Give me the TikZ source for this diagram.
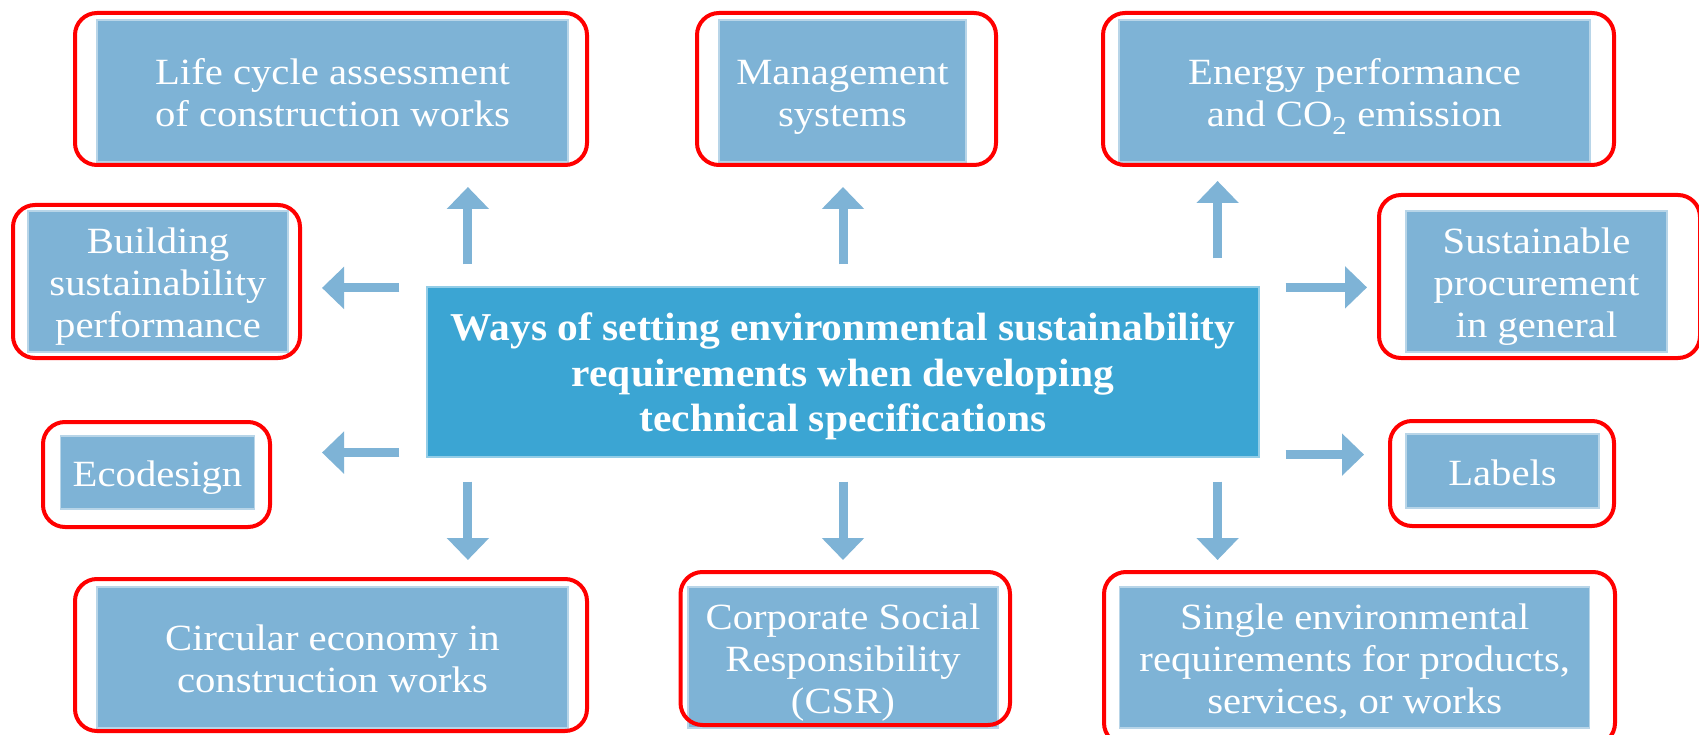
\documentclass[tikz,border=0pt]{standalone}
\usepackage{fontspec}
\setmainfont{Liberation Serif}[FakeStretch=1.1]
\newfontfamily\ctrfont{Liberation Serif}[FakeStretch=1.05]
\usetikzlibrary{arrows.meta,calc}
\definecolor{boxblue}{HTML}{7EB3D6}
\definecolor{ctrblue}{HTML}{3BA5D3}
\definecolor{framered}{HTML}{FF0000}
\tikzset{
  bluebox/.style={rectangle, fill=boxblue, draw=boxblue!55!white, line width=1.2pt,
    inner sep=0pt, text=white, align=center,
    font=\fontsize{37}{42}\selectfont},
  oneline/.style={text height=28.5pt, text depth=0pt},
  twolines/.style={text height=70.5pt, text depth=0pt},
  threelines/.style={text height=112.5pt, text depth=0pt},
  ctrbox/.style={rectangle, fill=ctrblue, draw=ctrblue!55!white, line width=1.2pt,
    inner sep=0pt, text=white, align=center,
    font=\ctrfont\bfseries\fontsize{39.5}{45.5}\selectfont,
    text height=119pt, text depth=0pt},
  redframe/.style={rectangle, draw=framered, line width=4pt, rounded corners=22pt,
    inner sep=0pt, fill=none},
  arr/.style={draw=boxblue, line width=9pt, -{Triangle[width=41pt,length=22pt]}},
}
\begin{document}
\begin{tikzpicture}[x=1pt,y=-1pt]
\useasboundingbox (0,0) rectangle (1699,735);
\clip (0,0) rectangle (1699,735);
\fill[white] (0,0) rectangle (1699,735);

% blue boxes
\node[bluebox, twolines, minimum width=471pt, minimum height=142pt] (lca) at (332.5,91) {Life cycle assessment\\of construction works};
\node[bluebox, twolines, minimum width=247pt, minimum height=142pt] (mgmt) at (842.5,91) {Management\\systems};
\node[bluebox, twolines, minimum width=471pt, minimum height=142pt] (energy) at (1354.5,91) {Energy performance\\and CO\textsubscript{2} emission};
\node[bluebox, threelines, minimum width=260pt, minimum height=141pt] (build) at (158,281.5) {Building\\sustainability\\performance};
\node[bluebox, threelines, minimum width=261pt, minimum height=141pt] (sust) at (1536.5,281.5) {Sustainable\\procurement\\in general};
\node[bluebox, oneline, minimum width=194pt, minimum height=73pt] (eco) at (157.5,472.5) {Ecodesign};
\node[bluebox, oneline, minimum width=193pt, minimum height=74pt] (labels) at (1502.5,471) {Labels};
\node[bluebox, twolines, minimum width=471pt, minimum height=141pt] (circ) at (332.5,657.5) {Circular economy in\\construction works};
\node[bluebox, threelines, minimum width=310pt, minimum height=141pt] (csr) at (843,657.5) {Corporate Social\\Responsibility\\(CSR)};
\node[bluebox, threelines, minimum width=470pt, minimum height=141pt] (single) at (1354.75,657.5) {Single environmental\\requirements for products,\\services, or works};

% central box
\node[ctrbox, minimum width=832pt, minimum height=170pt] (ctr) at (843,372) {Ways of setting environmental sustainability\\requirements when developing\\technical specifications};

% red frames
\node[redframe, minimum width=512pt, minimum height=152pt] (lcar) at (331,89) {};
\node[redframe, minimum width=299pt, minimum height=152pt] (mgmtr) at (846.5,89) {};
\node[redframe, minimum width=511pt, minimum height=152pt] (energyr) at (1358.5,89) {};
\node[redframe, minimum width=287pt, minimum height=153pt] (buildr) at (156.5,281.5) {};
\node[redframe, minimum width=321pt, minimum height=163pt] (sustr) at (1539.5,276.5) {};
\node[redframe, minimum width=227pt, minimum height=105pt] (ecor) at (156.5,474.5) {};
\node[redframe, minimum width=224pt, minimum height=105pt] (labelsr) at (1502,473.5) {};
\node[redframe, minimum width=512pt, minimum height=152pt] (circr) at (331,655) {};
\node[redframe, minimum width=329.5pt, minimum height=153pt] (csrr) at (845.25,648.5) {};
\node[redframe, minimum width=511pt, minimum height=173pt] (singler) at (1359.5,658.5) {};

% connector start points on the central box
\coordinate (u1) at ([xshift=41.5pt]ctr.north west);
\coordinate (u2) at (ctr.north);
\coordinate (u3) at ([xshift=-42pt]ctr.north east);
\coordinate (d1) at ([xshift=41.5pt]ctr.south west);
\coordinate (d2) at (ctr.south);
\coordinate (d3) at ([xshift=-42pt]ctr.south east);
\coordinate (l1) at ([yshift=-1.5pt]ctr.north west);
\coordinate (l2) at ([yshift=5pt]ctr.south west);
\coordinate (r1) at ([yshift=-1pt]ctr.north east);
\coordinate (r2) at ([yshift=3pt]ctr.south east);

% arrows
\draw[arr, shorten <=22pt, shorten >=20pt] (u1) -- (u1 |- lcar.south);
\draw[arr, shorten <=22pt, shorten >=20pt] (u2) -- (u2 |- mgmtr.south);
\draw[arr, shorten <=28pt, shorten >=14pt] (u3) -- (u3 |- energyr.south);
\draw[arr, shorten <=24pt, shorten >=17pt] (d1) -- (d1 |- circr.north);
\draw[arr, shorten <=24pt, shorten >=10pt] (d2) -- (d2 |- csrr.north);
\draw[arr, shorten <=24pt, shorten >=10pt] (d3) -- (d3 |- singler.north);
\draw[arr, shorten <=27pt, shorten >=20pt] (l1) -- (l1 -| buildr.east);
\draw[arr, shorten <=27pt, shorten >=50pt] (l2) -- (l2 -| ecor.east);
\draw[arr, shorten <=26pt, shorten >=10pt] (r1) -- (r1 -| sustr.west);
\draw[arr, shorten <=26pt, shorten >=24pt] (r2) -- (r2 -| labelsr.west);
\end{tikzpicture}
\end{document}
